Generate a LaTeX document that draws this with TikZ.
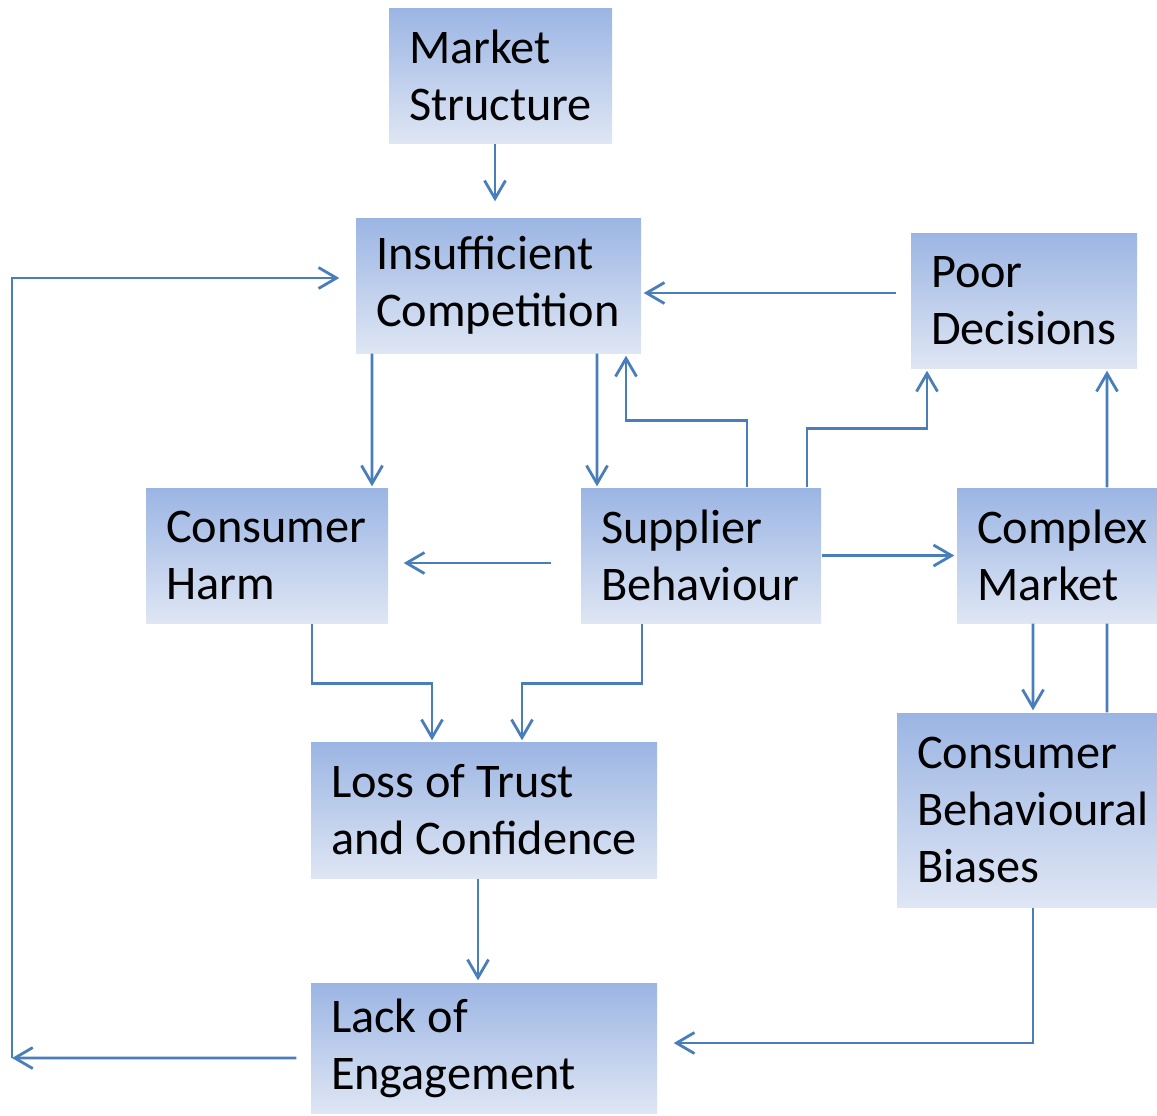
\documentclass[tikz,border=0pt]{standalone}
\usepackage{fontspec}
\setmainfont{Carlito}
\usepackage{tikz}
\usetikzlibrary{arrows.meta,positioning}

\definecolor{boxtop}{HTML}{9BB5E3}
\definecolor{boxbottom}{HTML}{DFE6F4}
\definecolor{linkblue}{HTML}{4A7EBB}

\tikzset{
  box/.style={top color=boxtop, bottom color=boxbottom, minimum height=13.5mm,
    inner xsep=2mm, inner ysep=0pt, align=flush left,
    font=\fontsize{13.75pt}{16.2pt}\selectfont},
  link/.style={draw=linkblue, line width=0.8pt},
  >={Straight Barb[length=1.8mm,width=2.1mm]}
}

\begin{document}
\begin{tikzpicture}[x=0.1mm,y=-0.1mm]
  \useasboundingbox (0,0) rectangle (1157,1115);

  %boxes
  \node[box, text width=18.3mm] (ms) at (500.5,75.5) {Market\\Structure};
  \node[box, text width=24.5mm] (ic) at (498.5,285.5) {Insufficient\\Competition};
  \node[box, text width=18.6mm] (pd) at (1024,300.5) {Poor\\Decisions};
  \node[box, text width=20.2mm] (ch) at (267,555.5) {Consumer\\Harm};
  \node[box, text width=20mm] (sb) at (701,555.5) {Supplier\\Behaviour};
  \node[box, text width=16mm] (cm) at (1057,555.5) {Complex\\Market};
  \node[box, text width=30.6mm, minimum height=13.6mm] (lt) at (484,810) {Loss of Trust\\\mbox{and Confidence}};
  \node[box, text width=22mm, minimum height=19.4mm] (cb) at (1027,810) {Consumer\\Behavioural\\Biases};
  \node[box, text width=30.6mm, minimum height=13mm] (le) at (484,1048) {Lack of\\Engagement};

  %feedback loop on the left
  \coordinate (back) at (12,1058);
  \draw[link,->] ([xshift=-1.4mm,yshift=-1mm]le.west) -- (back);
  \draw[link,->] (back) |- ([xshift=-1.6mm,yshift=.75mm]ic.west);

  %top part
  \draw[link,->] ([xshift=-.55mm]ms.south) -- ([xshift=-.55mm,yshift=1.6mm]ms.south |- ic.north);
  \draw[link,->] ([xshift=-1.4mm,yshift=.75mm]pd.west) -- ([xshift=.2mm,yshift=.75mm]pd.west -| ic.east);
  \draw[link,->] ([xshift=-12.65mm]ic.south) -- ([xshift=10.5mm,yshift=.1mm]ch.north);
  \draw[link,->] ([xshift=9.85mm]ic.south) -- ([xshift=-10.4mm,yshift=.1mm]sb.north);
  \draw[link,->] ([xshift=4.6mm]sb.north) -- ++(0,-67) -| ([xshift=12.75mm,yshift=-.2mm]ic.south);
  \draw[link,->] ([xshift=10.6mm]sb.north) -- ++(0,-59) -| ([xshift=-9.7mm,yshift=-.2mm]pd.south);

  %middle row
  \draw[link,->] ([xshift=-2.9mm,yshift=-.75mm]sb.west) -- ([xshift=1.5mm,yshift=-.75mm]ch.east);
  \draw[link,->] (sb.east) -- ([xshift=-.2mm]cm.west);
  \draw[link,->] ([xshift=5mm]cm.north) -- ([xshift=8.3mm,yshift=-.2mm]pd.south);
  \draw[link,->] ([xshift=-2.4mm]cm.south) -- ([xshift=.6mm,yshift=.2mm]cb.north);
  \draw[link] ([xshift=8mm]cb.north) -- ([xshift=5mm]cm.south);

  %lower part
  \draw[link,->] ([xshift=4.5mm]ch.south) -- ++(0,60) -| ([xshift=-5.2mm,yshift=.1mm]lt.north);
  \draw[link,->] ([xshift=-5.9mm]sb.south) -- ++(0,60) -| ([xshift=3.8mm,yshift=.1mm]lt.north);
  \draw[link,->] ([xshift=-.6mm]lt.south) -- ([xshift=-.6mm,yshift=.2mm]le.north);
  \draw[link,->] ([xshift=.6mm]cb.south) |- ([xshift=1.6mm,yshift=.5mm]le.east);
\end{tikzpicture}
\end{document}
